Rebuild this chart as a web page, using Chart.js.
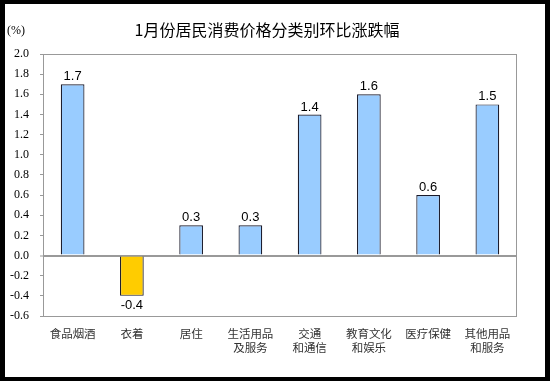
<!DOCTYPE html>
<html>
<head>
<meta charset="utf-8">
<script src="https://cdn.jsdelivr.net/npm/chart.js@4"></script>
<style>
  html, body { margin: 0; padding: 0; background: #000; }
  #frame { position: absolute; left: 5px; top: 4px; width: 540px; height: 373px; background: #fff; }
  canvas { display: block; }
</style>
</head>
<body>
<div id="frame"><canvas id="cpi" width="540" height="373"></canvas></div>
<script>
// 数据
const categories = ['食品烟酒', '衣着', '居住', ['生活用品', '及服务'], ['交通', '和通信'], ['教育文化', '和娱乐'], '医疗保健', ['其他用品', '和服务']];
const momChange = [1.7, -0.4, 0.3, 0.3, 1.4, 1.6, 0.6, 1.5];
const yMin = -0.6;
const yMax = 2.0;
const yStep = 0.2;

const titleText = '1月份居民消费价格分类别环比涨跌幅';
const unitText = '(%)';

// 标题、单位、绘图区边框、数值标签
const decorPlugin = {
    id: 'decor',
    afterDraw(chart) {
        const ctx = chart.ctx;
        const area = chart.chartArea;
        ctx.save();
        ctx.strokeStyle = '#999';
        ctx.lineWidth = 1;
        ctx.strokeRect(area.left + 0.5, area.top + 0.5, area.right - area.left - 1, area.bottom - area.top);

        ctx.fillStyle = '#000';
        ctx.textBaseline = 'middle';
        ctx.textAlign = 'center';
        ctx.font = '16px "Noto Sans CJK SC", sans-serif';
        ctx.fillText(titleText, 262, 26);

        ctx.textAlign = 'left';
        ctx.font = '12px "Liberation Serif", serif';
        ctx.fillText(unitText, 2, 27);

        ctx.font = '13px "Liberation Sans", Arial, sans-serif';
        ctx.textAlign = 'center';
        const meta = chart.getDatasetMeta(0);
        meta.data.forEach((bar, i) => {
            const v = momChange[i];
            if (v >= 0) {
                ctx.textBaseline = 'bottom';
                ctx.fillText(v.toFixed(1), bar.x, bar.y - 1);
            } else {
                ctx.textBaseline = 'top';
                ctx.fillText(v.toFixed(1), bar.x, bar.y + 3);
            }
        });
        ctx.restore();
    }
};

new Chart(document.getElementById('cpi'), {
    type: 'bar',
    data: {
        labels: categories,
        datasets: [{
            data: momChange,
            backgroundColor: momChange.map(v => v < 0 ? '#FFCC00' : '#99CCFF'),
            borderColor: '#1a1a2a',
            borderWidth: 1.2,
            barPercentage: 0.4,
            categoryPercentage: 1
        }]
    },
    options: {
        responsive: false,
        animation: false,
        events: [],
        layout: { padding: { top: 50, right: 28, left: 0, bottom: 0 } },
        plugins: {
            legend: { display: false },
            title: { display: false },
            tooltip: { enabled: false }
        },
        scales: {
            x: {
                grid: { display: false, drawTicks: false },
                border: { display: false },
                ticks: {
                    padding: 10,
                    color: '#333',
                    maxRotation: 0,
                    autoSkip: false,
                    font: { family: '"Noto Sans CJK SC", sans-serif', size: 11.5, lineHeight: 1.25 }
                },
                afterFit(scale) { scale.height = 61; }
            },
            y: {
                min: yMin,
                max: yMax,
                border: { display: true, color: '#999', width: 1 },
                grid: {
                    drawTicks: true,
                    tickLength: 3,
                    tickColor: '#999',
                    tickWidth: 1,
                    color: ctx => (ctx.tick && Math.abs(ctx.tick.value) < 1e-9) ? '#999' : 'rgba(0,0,0,0)',
                    lineWidth: ctx => (ctx.tick && Math.abs(ctx.tick.value) < 1e-9) ? 2 : 1
                },
                ticks: {
                    stepSize: yStep,
                    padding: 11,
                    color: '#000',
                    font: { family: '"Liberation Serif", serif', size: 12 },
                    callback: v => (Math.round(v * 10) / 10).toFixed(1)
                },
                afterFit(scale) { scale.width = 38; }
            }
        }
    },
    plugins: [decorPlugin]
});
</script>
</body>
</html>
